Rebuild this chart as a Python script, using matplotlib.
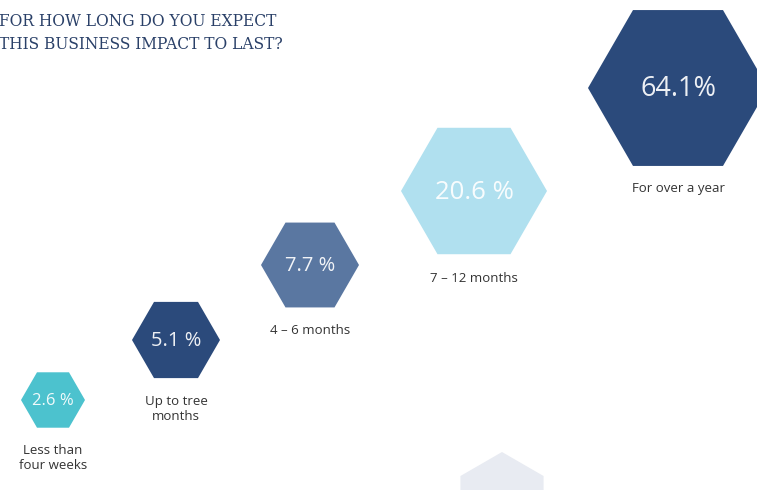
import numpy as np
import matplotlib.pyplot as plt
from matplotlib.patches import RegularPolygon

# data
categories = ['Less than\nfour weeks', 'Up to tree\nmonths', '4 – 6 months',
              '7 – 12 months', 'For over a year']
values = [2.6, 5.1, 7.7, 20.6, 64.1]
value_labels = ['2.6 %', '5.1 %', '7.7 %', '20.6 %', '64.1%']

# layout (pixel coords, y down)
cx = [53, 176, 310, 474, 678]
cy = [400, 340, 265, 191, 88]
widths = [64, 88, 98, 146, 180]
label_y = [458, 409, 330, 278, 188]
val_size = [12, 14.5, 14.5, 18.5, 19.5]
colors = ['#4cc2ce', '#2b4a7b', '#5a77a1', '#b0e0ef', '#2b4a7b']

fig = plt.figure(figsize=(7.57, 4.90), dpi=100)
ax = fig.add_axes([0, 0, 1, 1])
ax.set_xlim(0, 757)
ax.set_ylim(490, 0)
ax.set_aspect('equal')
ax.axis('off')

for i in range(len(values)):
    hexa = RegularPolygon((cx[i], cy[i]), numVertices=6, radius=widths[i] / 2,
                          orientation=np.pi / 6, facecolor=colors[i], edgecolor='none')
    ax.add_patch(hexa)
    ax.text(cx[i], cy[i] + 1, value_labels[i], ha='center', va='center',
            color='white', alpha=0.92, fontsize=val_size[i], family='Open Sans')
    ax.text(cx[i], label_y[i], categories[i], ha='center', va='center',
            color='#333333', fontsize=9.5, family='Open Sans', linespacing=1.15)

# decorative hexagon at the bottom
ax.add_patch(RegularPolygon((502, 500), numVertices=6, radius=48,
                            orientation=0, facecolor='#e8ebf2', edgecolor='none'))

ax.text(-1, 21, 'FOR HOW LONG DO YOU EXPECT', ha='left', va='center',
        color='#2a4068', fontsize=11.2, family='DejaVu Serif')
ax.text(-1, 44, 'THIS BUSINESS IMPACT TO LAST?', ha='left', va='center',
        color='#2a4068', fontsize=11.2, family='DejaVu Serif')

fig.savefig('out.png', dpi=100)
